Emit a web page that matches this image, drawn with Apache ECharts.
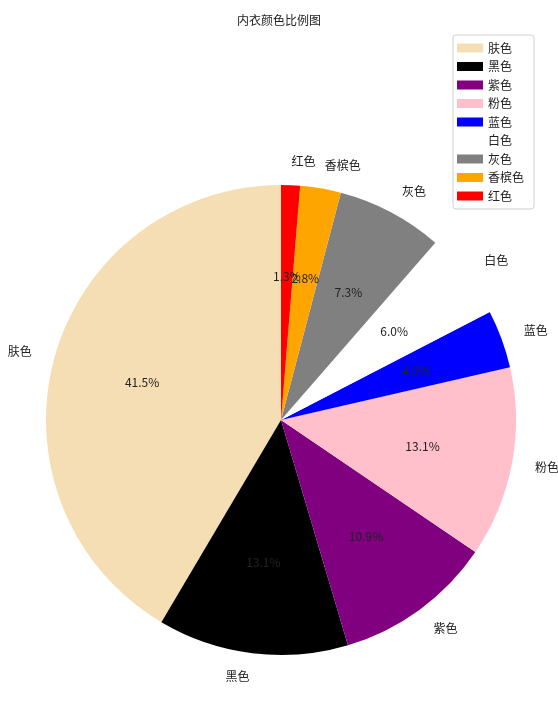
<!DOCTYPE html>
<html><head><meta charset="utf-8">
<script src="https://cdn.jsdelivr.net/npm/echarts@6/dist/echarts.min.js"></script>
<style>html,body{margin:0;padding:0;background:#fff}#c{width:558px;height:709px}</style>
</head><body><div id="c"></div>
<script>
const titleText = '内衣颜色比例图';
const categories = ['肤色','黑色','紫色','粉色','蓝色','白色','灰色','香槟色','红色'];
const values = [41.5, 13.1, 10.9, 13.1, 4.0, 6.0, 7.3, 2.8, 1.3];
const colors = ['#F5DEB3','#000000','#800080','#FFC0CB','#0000FF','#FFFFFF','#808080','#FFA500','#FF0000'];

const R = 235;
const font = '"Noto Sans CJK SC", "DejaVu Sans", sans-serif';
const data = categories.map((n,i)=>({name:n, value:values[i], itemStyle:{color:colors[i]}}));
const chart = echarts.init(document.getElementById('c'));
chart.setOption({
  animation:false,
  backgroundColor:'#fff',
  title:{text:titleText,left:'center',top:9,textStyle:{fontSize:12,fontWeight:'normal',color:'#222',fontFamily:font}},
  legend:{orient:'vertical',right:24,top:35,itemWidth:26,itemHeight:9,itemGap:6.5,
    borderColor:'#d0d0d0',borderWidth:1,borderRadius:3,padding:[7,10,7,4],
    textStyle:{fontSize:12,color:'#222',fontFamily:font},icon:'rect',data:categories},
  series:[
    {type:'pie',center:[281,420],radius:[0,R],startAngle:90,clockwise:false,avoidLabelOverlap:false,
     data:data,
     label:{show:true,position:'outside',fontSize:12,color:'#222',fontFamily:font,distanceToLabelLine:0},
     labelLine:{show:false,length:R*0.1,length2:0},
     labelLayout:{hideOverlap:false},
     emphasis:{disabled:true}},
    {type:'pie',center:[281,420],radius:[R*0.2,R],startAngle:90,clockwise:false,avoidLabelOverlap:false,silent:true,
     data:categories.map((n,i)=>({name:n,value:values[i],itemStyle:{color:'rgba(0,0,0,0)'}})),
     label:{show:true,position:'inside',fontSize:12,color:'#222',fontFamily:font,overflow:'none',
       formatter:p=>p.value.toFixed(1)+'%'},
     labelLine:{show:false},legendHoverLink:false,
     labelLayout:{hideOverlap:false},
     emphasis:{disabled:true}}
  ]
});
</script></body></html>
